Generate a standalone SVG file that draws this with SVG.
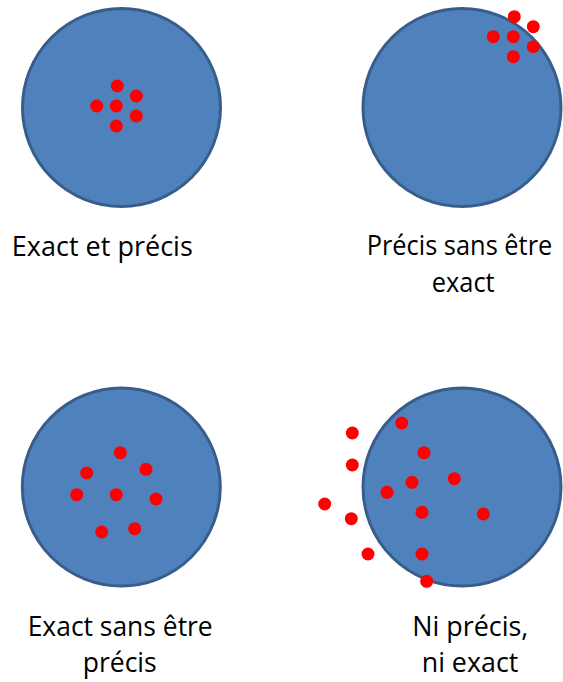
<svg xmlns="http://www.w3.org/2000/svg" width="563" height="682" viewBox="0 0 563 682">
<style>
.target{fill:#4f81bd;stroke:#385d8a;stroke-width:3}
.dot{fill:#ff0000}
.lbl{font-family:"Open Sans","Noto Sans","Liberation Sans",sans-serif;font-size:27.5px;fill:#000;text-anchor:middle}
</style>
<rect width="563" height="682" fill="#fff"/>
<g id="exact-precis">
<circle class="target" cx="121.5" cy="107.5" r="99"/>
<circle class="dot" cx="117.3" cy="86" r="6.5"/>
<circle class="dot" cx="136.3" cy="96" r="6.5"/>
<circle class="dot" cx="96.7" cy="106" r="6.5"/>
<circle class="dot" cx="116.3" cy="106" r="6.5"/>
<circle class="dot" cx="136.3" cy="116" r="6.5"/>
<circle class="dot" cx="116.3" cy="126" r="6.5"/>
<text class="lbl" x="102.3" y="255.7" textLength="181" lengthAdjust="spacingAndGlyphs">Exact et précis</text>
</g>
<g id="precis-sans-exact">
<circle class="target" cx="462" cy="107.5" r="99"/>
<circle class="dot" cx="514.3" cy="16.7" r="6.5"/>
<circle class="dot" cx="533.3" cy="26.7" r="6.5"/>
<circle class="dot" cx="493.3" cy="36.7" r="6.5"/>
<circle class="dot" cx="513.3" cy="36.7" r="6.5"/>
<circle class="dot" cx="533.3" cy="46.7" r="6.5"/>
<circle class="dot" cx="513.3" cy="56.7" r="6.5"/>
<text class="lbl" x="459.5" y="255.3" textLength="185.6" lengthAdjust="spacingAndGlyphs">Précis sans être</text>
<text class="lbl" x="463.2" y="292" textLength="63" lengthAdjust="spacingAndGlyphs">exact</text>
</g>
<g id="exact-sans-precis">
<circle class="target" cx="121.3" cy="487" r="99"/>
<circle class="dot" cx="120.3" cy="452.7" r="6.5"/>
<circle class="dot" cx="146" cy="469.3" r="6.5"/>
<circle class="dot" cx="86.7" cy="473" r="6.5"/>
<circle class="dot" cx="76.7" cy="494.7" r="6.5"/>
<circle class="dot" cx="116.3" cy="494.7" r="6.5"/>
<circle class="dot" cx="156" cy="499" r="6.5"/>
<circle class="dot" cx="101.7" cy="532" r="6.5"/>
<circle class="dot" cx="134.7" cy="528.7" r="6.5"/>
<text class="lbl" x="120.2" y="635.7" textLength="185" lengthAdjust="spacingAndGlyphs">Exact sans être</text>
<text class="lbl" x="119.7" y="672.4" textLength="74" lengthAdjust="spacingAndGlyphs">précis</text>
</g>
<g id="ni-precis-ni-exact">
<circle class="target" cx="462" cy="487" r="99"/>
<circle class="dot" cx="401.7" cy="423" r="6.5"/>
<circle class="dot" cx="352.3" cy="433" r="6.5"/>
<circle class="dot" cx="424" cy="452.7" r="6.5"/>
<circle class="dot" cx="352.3" cy="465" r="6.5"/>
<circle class="dot" cx="454.3" cy="478.7" r="6.5"/>
<circle class="dot" cx="412" cy="482.3" r="6.5"/>
<circle class="dot" cx="387" cy="492.3" r="6.5"/>
<circle class="dot" cx="324.7" cy="504" r="6.5"/>
<circle class="dot" cx="422" cy="512.3" r="6.5"/>
<circle class="dot" cx="483.3" cy="514" r="6.5"/>
<circle class="dot" cx="351.3" cy="518.7" r="6.5"/>
<circle class="dot" cx="368" cy="554" r="6.5"/>
<circle class="dot" cx="422" cy="554" r="6.5"/>
<circle class="dot" cx="426.7" cy="581.3" r="6.5"/>
<text class="lbl" x="470.3" y="635.7" textLength="116" lengthAdjust="spacingAndGlyphs">Ni précis,</text>
<text class="lbl" x="470" y="672.4" textLength="96.6" lengthAdjust="spacingAndGlyphs">ni exact</text>
</g>
</svg>
